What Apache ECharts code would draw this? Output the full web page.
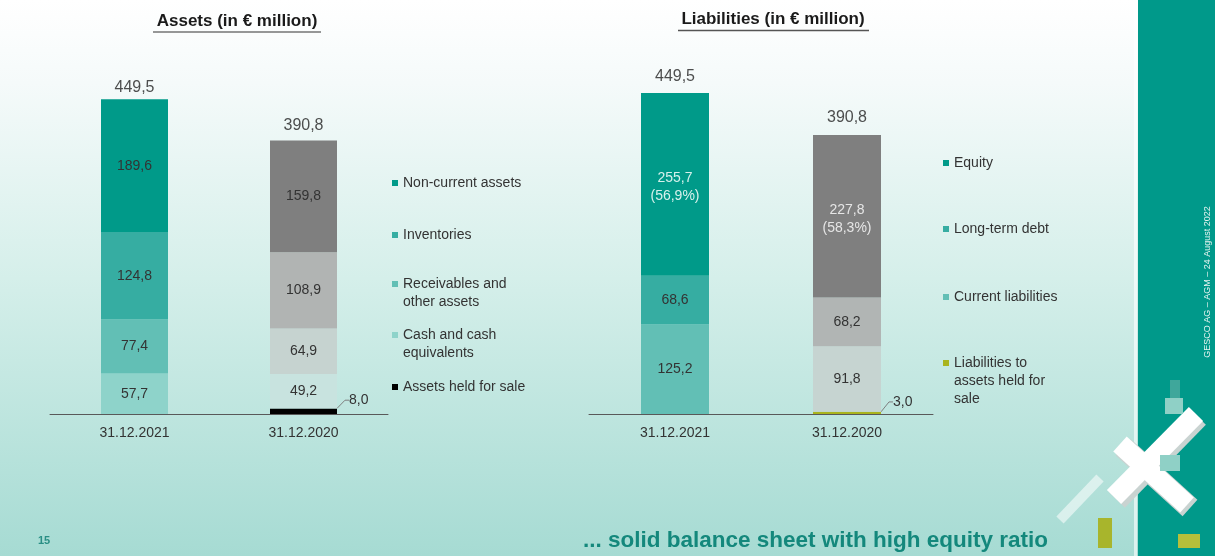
<!DOCTYPE html>
<html>
<head>
<meta charset="utf-8">
<script src="https://cdn.jsdelivr.net/npm/echarts@6/dist/echarts.min.js"></script>
<style>html,body{margin:0;padding:0;}#c{width:1215px;height:556px;}</style>
</head>
<body>
<div id="c"></div>
<script>
// ---- data ----
const categories = ['31.12.2021', '31.12.2020'];
// Assets (in € million)
const nonCurrentAssets = [189.6, 159.8];
const inventories = [124.8, 108.9];
const receivables = [77.4, 64.9];
const cashEquivalents = [57.7, 49.2];
const assetsHeldForSale = [null, 8.0];
const assetTotals = [449.5, 390.8];
// Liabilities (in € million)
const equity = [255.7, 227.8];
const longTermDebt = [68.6, 68.2];
const currentLiabilities = [125.2, 91.8];
const liabHeldForSale = [null, 3.0];
const liabTotals = [449.5, 390.8];

const FONT = "'Liberation Sans', Arial, sans-serif";
const fmt = v => v.toFixed(1).replace('.', ',');

function seg(name, data, colors, gridIdx, labelColor) {
  return {
    name, type: 'bar', stack: 's' + gridIdx, xAxisIndex: gridIdx, yAxisIndex: gridIdx,
    barWidth: gridIdx === 0 ? 67 : 68,
    itemStyle: { color: colors[0] },
    data: data.map((v, i) => v == null ? null : { value: v, itemStyle: { color: colors[i] } }),
    label: { show: true, position: 'inside', fontFamily: FONT, fontSize: 14, color: labelColor || '#333',
      formatter: p => fmt(p.value) },
    emphasis: { disabled: true }
  };
}
function small(name, data, color, gridIdx) {
  return {
    name, type: 'bar', stack: 's' + gridIdx, xAxisIndex: gridIdx, yAxisIndex: gridIdx,
    barWidth: gridIdx === 0 ? 67 : 68,
    itemStyle: { color },
    data,
    label: { show: true, position: 'right', distance: 2, fontFamily: FONT, fontSize: 14, color: '#333',
      formatter: p => fmt(p.value) },
    labelLayout: { dx: 10, dy: -11 },
    labelLine: { show: true, length2: 4, lineStyle: { color: '#7f7f7f', width: 1 } },
    emphasis: { disabled: true }
  };
}
function totals(data, gridIdx, distances) {
  return {
    type: 'scatter', xAxisIndex: gridIdx, yAxisIndex: gridIdx, symbolSize: 1,
    itemStyle: { color: 'rgba(0,0,0,0)' },
    data: data.map((v, i) => ({ value: v, label: { distance: distances[i] } })),
    label: { show: true, position: 'top', distance: 6, fontFamily: FONT, fontSize: 16, color: '#222',
      formatter: p => fmt(p.value) },
    emphasis: { disabled: true }, silent: true
  };
}
function legendItem(name, left, top, lines) {
  // leading blank lines keep the marker level with the first line of text
  const text = '\n'.repeat(lines.length - 1) + lines.join('\n');
  return {
    data: [name], left, top, padding: 0, icon: 'rect', itemWidth: 6, itemHeight: 6, selectedMode: false,
    formatter: () => text,
    textStyle: { fontFamily: FONT, fontSize: 14, color: '#333', lineHeight: 18 }
  };
}

const equityPct = equity.map((v, i) => (v / liabTotals[i] * 100).toFixed(1).replace('.', ',') + '%');

const series = [
  small('Assets held for sale', assetsHeldForSale, '#000000', 0),
  seg('Cash and cash equivalents', cashEquivalents, ['#8ed3ca', '#c8e3df'], 0),
  seg('Receivables and other assets', receivables, ['#62bfb5', '#c6d3d0'], 0),
  seg('Inventories', inventories, ['#36ada2', '#b1b4b3'], 0),
  seg('Non-current assets', nonCurrentAssets, ['#009a89', '#7f7f7f'], 0),
  totals(assetTotals, 0, [3, 6]),
  small('Liabilities to assets held for sale', liabHeldForSale, '#a9b41e', 1),
  seg('Current liabilities', currentLiabilities, ['#62bfb5', '#c6d4d1'], 1),
  seg('Long-term debt', longTermDebt, ['#36ada2', '#b1b5b4'], 1),
  (function () {
    const s = seg('Equity', equity, ['#009a89', '#7f7f7f'], 1, '#dff4f0');
    s.label.lineHeight = 18;
    s.label.offset = [0, 3];
    s.label.formatter = p => fmt(p.value) + '\n(' + equityPct[p.dataIndex] + ')';
    s.data.forEach((d, i) => { d.label = { color: i === 0 ? '#d6f1ec' : '#e6e6e6' }; });
    return s;
  })(),
  totals(liabTotals, 1, [8, 9])
];

const axisX = (gi) => ({
  type: 'category', gridIndex: gi, data: categories,
  axisLine: { lineStyle: { color: '#595959', width: 1 } },
  axisTick: { show: false },
  axisLabel: { fontFamily: FONT, fontSize: 14, color: '#333', margin: 12 }
});
const axisY = (gi) => ({ type: 'value', gridIndex: gi, min: 0, max: 500, show: false, splitLine: { show: false } });

const option = {
  animation: false,
  grid: [
    { left: 50, top: 64, width: 338, height: 350 },
    { left: 589, top: 57, width: 344, height: 357 }
  ],
  xAxis: [axisX(0), axisX(1)],
  yAxis: [axisY(0), axisY(1)],
  legend: [
    legendItem('Non-current assets', 392, 174, ['Non-current assets']),
    legendItem('Inventories', 392, 226, ['Inventories']),
    legendItem('Receivables and other assets', 392, 257, ['Receivables and', 'other assets']),
    legendItem('Cash and cash equivalents', 392, 308, ['Cash and cash', 'equivalents']),
    legendItem('Assets held for sale', 392, 378, ['Assets held for sale']),
    legendItem('Equity', 943, 154, ['Equity']),
    legendItem('Long-term debt', 943, 220, ['Long-term debt']),
    legendItem('Current liabilities', 943, 288, ['Current liabilities']),
    legendItem('Liabilities to assets held for sale', 943, 318, ['Liabilities to', 'assets held for', 'sale'])
  ],
  series,
  graphic: [
    { type: 'rect', z: -10, silent: true, shape: { x: 0, y: 0, width: 1215, height: 556 },
      style: { fill: { type: 'linear', x: 0, y: 0, x2: 0, y2: 1, colorStops: [
        { offset: 0, color: '#ffffff' }, { offset: 0.15, color: '#f5fafa' },
        { offset: 0.5, color: '#d5efea' }, { offset: 1, color: '#a6dbd3' }] } } },
    { type: 'rect', z: -9, silent: true, shape: { x: 1138, y: 0, width: 77, height: 556 }, style: { fill: '#00998a' } },
    { type: 'rect', z: -9, silent: true, shape: { x: 1134, y: 0, width: 3, height: 556 }, style: { fill: 'rgba(255,255,255,0.6)' } },
    // titles
    { type: 'text', x: 237, y: 21, silent: true,
      style: { text: 'Assets (in € million)', font: 'bold 17px ' + FONT, fill: '#1a1a1a', align: 'center', verticalAlign: 'middle' } },
    { type: 'line', silent: true, shape: { x1: 153, y1: 32, x2: 321, y2: 32 }, style: { stroke: '#333', lineWidth: 1.2 } },
    { type: 'text', x: 773, y: 19, silent: true,
      style: { text: 'Liabilities (in € million)', font: 'bold 17px ' + FONT, fill: '#1a1a1a', align: 'center', verticalAlign: 'middle' } },
    { type: 'line', silent: true, shape: { x1: 678, y1: 30.5, x2: 869, y2: 30.5 }, style: { stroke: '#555', lineWidth: 1.5 } },
    // footer
    { type: 'text', x: 583, y: 541, silent: true,
      style: { text: '... solid balance sheet with high equity ratio', font: 'bold 22.5px ' + FONT, fill: '#14887c', align: 'left', verticalAlign: 'middle' } },
    { type: 'text', x: 38, y: 541, silent: true,
      style: { text: '15', font: 'bold 11px ' + FONT, fill: '#2a8f85', align: 'left', verticalAlign: 'middle' } },
    // side text
    { type: 'text', x: 1208, y: 282, rotation: Math.PI / 2, silent: true,
      style: { text: 'GESCO AG – AGM – 24 August 2022', font: '9px ' + FONT, fill: '#e6f5f2', align: 'center', verticalAlign: 'middle' } },
    // logo approximation
    { type: 'line', silent: true, shape: { x1: 1123, y1: 447, x2: 1190, y2: 508 }, style: { stroke: '#c9d3d1', lineWidth: 22 } },
    { type: 'line', silent: true, shape: { x1: 1198, y1: 417, x2: 1117, y2: 500 }, style: { stroke: '#c9d3d1', lineWidth: 22 } },
    { type: 'line', silent: true, shape: { x1: 1120, y1: 444, x2: 1187, y2: 505 }, style: { stroke: '#ffffff', lineWidth: 20 } },
    { type: 'line', silent: true, shape: { x1: 1196, y1: 414, x2: 1114, y2: 497 }, style: { stroke: '#ffffff', lineWidth: 20 } },
    { type: 'rect', silent: true, shape: { x: 1098, y: 518, width: 14, height: 30 }, style: { fill: '#a8b52c' } },
    { type: 'rect', silent: true, shape: { x: 1178, y: 534, width: 22, height: 14 }, style: { fill: '#b7bf3a' } },
    { type: 'line', silent: true, shape: { x1: 1060, y1: 520, x2: 1100, y2: 478 }, style: { stroke: 'rgba(255,255,255,0.55)', lineWidth: 10 } },
    { type: 'rect', silent: true, shape: { x: 1170, y: 380, width: 10, height: 22 }, style: { fill: '#3fa79b' } },
    { type: 'rect', silent: true, shape: { x: 1165, y: 398, width: 18, height: 16 }, style: { fill: '#8fd0c6' } },
    { type: 'rect', silent: true, shape: { x: 1160, y: 455, width: 20, height: 16 }, style: { fill: '#8fd0c6' } }
  ]
};
const chart = echarts.init(document.getElementById('c'), null, { renderer: 'canvas' });
chart.setOption(option);
</script>
</body>
</html>
